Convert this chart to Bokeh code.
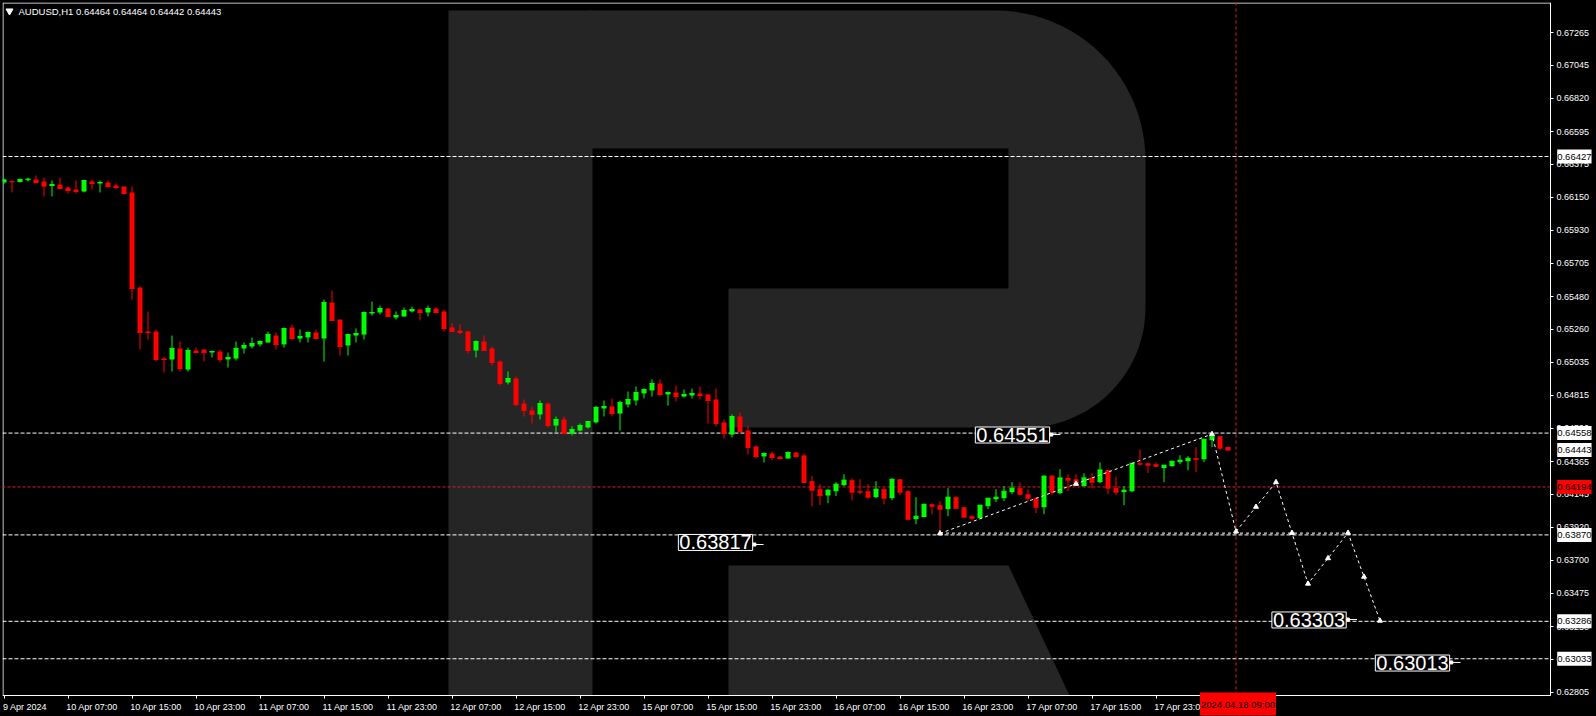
import math
from bokeh.plotting import figure
from bokeh.models import (Range1d, FixedTicker, PrintfTickFormatter, Label,
                          ColumnDataSource, GlobalInlineStyleSheet)
from bokeh.embed import file_html
from bokeh.resources import INLINE

# ---------------- data (AUDUSD H1) ----------------
open_ = [0.66251, 0.66260, 0.66254, 0.66267, 0.66272, 0.66258, 0.66227, 0.66238, 0.66218, 0.66204,
         0.66191, 0.66258, 0.66245, 0.66251, 0.66231, 0.66224, 0.66184, 0.65542, 0.65244, 0.65244,
         0.65062, 0.65055, 0.65130, 0.64988, 0.65116, 0.65123, 0.65102, 0.65109, 0.65055, 0.65062,
         0.65130, 0.65143, 0.65157, 0.65170, 0.65217, 0.65157, 0.65271, 0.65197, 0.65204, 0.65238,
         0.65197, 0.65440, 0.65325, 0.65150, 0.65217, 0.65224, 0.65366, 0.65373, 0.65400, 0.65339,
         0.65346, 0.65380, 0.65393, 0.65373, 0.65400, 0.65380, 0.65272, 0.65251, 0.65245, 0.65116,
         0.65177, 0.65130, 0.65042, 0.64900, 0.64927, 0.64758, 0.64711, 0.64684, 0.64758, 0.64609,
         0.64650, 0.64555, 0.64575, 0.64596, 0.64630, 0.64724, 0.64738, 0.64690, 0.64751, 0.64778,
         0.64826, 0.64846, 0.64893, 0.64819, 0.64832, 0.64805, 0.64812, 0.64826, 0.64819, 0.64785,
         0.64630, 0.64548, 0.64670, 0.64575, 0.64467, 0.64400, 0.64420, 0.64400, 0.64386, 0.64427,
         0.64407, 0.64233, 0.64179, 0.64136, 0.64165, 0.64206, 0.64240, 0.64165, 0.64165, 0.64125,
         0.64179, 0.64118, 0.64246, 0.64165, 0.63976, 0.63990, 0.64077, 0.64071, 0.64044, 0.64125,
         0.64057, 0.63996, 0.63983, 0.64064, 0.64111, 0.64118, 0.64159, 0.64186, 0.64145, 0.64118,
         0.64057, 0.64271, 0.64152, 0.64255, 0.64246, 0.64199, 0.64255, 0.64226, 0.64309, 0.64186,
         0.64159, 0.64165, 0.64354, 0.64354, 0.64348, 0.64321, 0.64334, 0.64361, 0.64368, 0.64388,
         0.64381, 0.64510, 0.64537, 0.64464]
high = [0.66278, 0.66265, 0.66278, 0.66285, 0.66299, 0.66285, 0.66265, 0.66285, 0.66224, 0.66265,
        0.66265, 0.66272, 0.66265, 0.66265, 0.66245, 0.66224, 0.66224, 0.65549, 0.65380, 0.65258,
        0.65075, 0.65217, 0.65177, 0.65136, 0.65136, 0.65123, 0.65116, 0.65123, 0.65102, 0.65177,
        0.65170, 0.65204, 0.65184, 0.65244, 0.65238, 0.65271, 0.65292, 0.65258, 0.65244, 0.65258,
        0.65461, 0.65521, 0.65325, 0.65224, 0.65265, 0.65380, 0.65447, 0.65420, 0.65400, 0.65380,
        0.65407, 0.65413, 0.65393, 0.65420, 0.65407, 0.65393, 0.65299, 0.65292, 0.65251, 0.65184,
        0.65218, 0.65143, 0.65049, 0.64974, 0.64940, 0.64785, 0.64738, 0.64778, 0.64765, 0.64670,
        0.64670, 0.64603, 0.64623, 0.64636, 0.64744, 0.64778, 0.64792, 0.64778, 0.64839, 0.64873,
        0.64859, 0.64920, 0.64920, 0.64839, 0.64880, 0.64853, 0.64859, 0.64873, 0.64819, 0.64859,
        0.64650, 0.64684, 0.64697, 0.64603, 0.64474, 0.64427, 0.64434, 0.64400, 0.64434, 0.64427,
        0.64420, 0.64267, 0.64213, 0.64179, 0.64226, 0.64280, 0.64253, 0.64246, 0.64213, 0.64233,
        0.64186, 0.64253, 0.64246, 0.64172, 0.64125, 0.64077, 0.64084, 0.64098, 0.64186, 0.64132,
        0.64057, 0.64003, 0.64071, 0.64118, 0.64179, 0.64199, 0.64226, 0.64226, 0.64179, 0.64125,
        0.64273, 0.64271, 0.64314, 0.64280, 0.64280, 0.64287, 0.64287, 0.64359, 0.64309, 0.64264,
        0.64199, 0.64354, 0.64447, 0.64354, 0.64361, 0.64341, 0.64368, 0.64408, 0.64402, 0.64463,
        0.64517, 0.64564, 0.64537, 0.64464]
low = [0.66242, 0.66184, 0.66251, 0.66258, 0.66245, 0.66157, 0.66157, 0.66211, 0.66177, 0.66177,
       0.66184, 0.66204, 0.66184, 0.66218, 0.66204, 0.66170, 0.65461, 0.65123, 0.65190, 0.65042,
       0.64967, 0.64974, 0.64974, 0.64974, 0.65096, 0.65042, 0.65069, 0.65035, 0.65001, 0.65048,
       0.65096, 0.65130, 0.65143, 0.65170, 0.65123, 0.65136, 0.65184, 0.65170, 0.65170, 0.65190,
       0.65042, 0.65319, 0.65082, 0.65082, 0.65170, 0.65190, 0.65352, 0.65359, 0.65346, 0.65325,
       0.65346, 0.65373, 0.65319, 0.65346, 0.65366, 0.65244, 0.65245, 0.65224, 0.65096, 0.65069,
       0.65116, 0.65015, 0.64880, 0.64886, 0.64738, 0.64670, 0.64623, 0.64650, 0.64596, 0.64562,
       0.64555, 0.64542, 0.64569, 0.64589, 0.64623, 0.64670, 0.64670, 0.64575, 0.64731, 0.64744,
       0.64792, 0.64805, 0.64805, 0.64744, 0.64771, 0.64798, 0.64792, 0.64785, 0.64623, 0.64603,
       0.64521, 0.64528, 0.64555, 0.64413, 0.64386, 0.64359, 0.64373, 0.64380, 0.64386, 0.64393,
       0.64224, 0.64064, 0.64071, 0.64084, 0.64132, 0.64199, 0.64104, 0.64145, 0.64111, 0.64118,
       0.64077, 0.64104, 0.64138, 0.63969, 0.63942, 0.63990, 0.64010, 0.63888, 0.63996, 0.64050,
       0.63990, 0.63969, 0.63976, 0.64044, 0.64091, 0.64098, 0.64145, 0.64138, 0.64098, 0.64017,
       0.64010, 0.64138, 0.64145, 0.64165, 0.64199, 0.64199, 0.64186, 0.64219, 0.64145, 0.64138,
       0.64071, 0.64159, 0.64341, 0.64287, 0.64327, 0.64226, 0.64334, 0.64348, 0.64307, 0.64294,
       0.64361, 0.64463, 0.64449, 0.64442]
close = [0.66269, 0.66256, 0.66272, 0.66274, 0.66251, 0.66227, 0.66238, 0.66211, 0.66197, 0.66191,
         0.66265, 0.66245, 0.66251, 0.66224, 0.66218, 0.66177, 0.65535, 0.65238, 0.65238, 0.65055,
         0.65055, 0.65130, 0.64994, 0.65116, 0.65102, 0.65102, 0.65109, 0.65055, 0.65069, 0.65130,
         0.65150, 0.65163, 0.65177, 0.65224, 0.65157, 0.65265, 0.65197, 0.65211, 0.65238, 0.65197,
         0.65440, 0.65319, 0.65143, 0.65224, 0.65231, 0.65373, 0.65373, 0.65400, 0.65346, 0.65352,
         0.65386, 0.65393, 0.65373, 0.65400, 0.65373, 0.65265, 0.65245, 0.65238, 0.65116, 0.65177,
         0.65116, 0.65035, 0.64893, 0.64927, 0.64751, 0.64711, 0.64684, 0.64758, 0.64609, 0.64650,
         0.64555, 0.64582, 0.64609, 0.64636, 0.64731, 0.64738, 0.64690, 0.64765, 0.64785, 0.64832,
         0.64853, 0.64893, 0.64819, 0.64832, 0.64805, 0.64819, 0.64826, 0.64812, 0.64778, 0.64623,
         0.64555, 0.64670, 0.64569, 0.64461, 0.64400, 0.64420, 0.64393, 0.64386, 0.64427, 0.64400,
         0.64224, 0.64172, 0.64136, 0.64172, 0.64213, 0.64240, 0.64159, 0.64159, 0.64125, 0.64179,
         0.64118, 0.64246, 0.64159, 0.63976, 0.63996, 0.64077, 0.64064, 0.64044, 0.64125, 0.64050,
         0.63990, 0.63983, 0.64071, 0.64118, 0.64125, 0.64165, 0.64186, 0.64145, 0.64118, 0.64057,
         0.64267, 0.64159, 0.64255, 0.64240, 0.64206, 0.64255, 0.64226, 0.64309, 0.64186, 0.64159,
         0.64172, 0.64354, 0.64348, 0.64341, 0.64334, 0.64341, 0.64368, 0.64375, 0.64388, 0.64381,
         0.64517, 0.64537, 0.64456, 0.64443]

tick_bars = [0, 8, 16, 24, 32, 40, 48, 56, 64, 72, 80, 88, 96, 104, 112, 120, 128, 136, 144]
tick_labels = ["9 Apr 2024", "10 Apr 07:00", "10 Apr 15:00", "10 Apr 23:00", "11 Apr 07:00",
               "11 Apr 15:00", "11 Apr 23:00", "12 Apr 07:00", "12 Apr 15:00", "12 Apr 23:00",
               "15 Apr 07:00", "15 Apr 15:00", "15 Apr 23:00", "16 Apr 07:00", "16 Apr 15:00",
               "16 Apr 23:00", "17 Apr 07:00", "17 Apr 15:00", "17 Apr 23:00"]
price_ticks = [0.67265, 0.67045, 0.66820, 0.66595, 0.66375, 0.66150, 0.65930, 0.65705, 0.65480,
               0.65260, 0.65035, 0.64815, 0.64590, 0.64365, 0.64145, 0.63920, 0.63700, 0.63475,
               0.63250, 0.63030, 0.62805]

white_levels = [0.66427, 0.64558, 0.63870, 0.63286, 0.63033]
red_level = 0.64194
current_price = 0.64443
time_line_bar = 154
time_line_text = "2024.04.18 09:00"
title_text = "AUDUSD,H1  0.64464 0.64464 0.64442 0.64443"

fc_bar = [117, 151, 154, 159, 163, 168, 172]
fc_price = [0.63880, 0.64551, 0.63893, 0.64226, 0.63540, 0.63884, 0.63290]
fc_mid_segments = [0, 2, 3, 4, 5]
base_bar = [117, 168]
base_price = 0.63882

box_text = ["0.64551", "0.63817", "0.63303", "0.63013"]
box_bar = [126.06, 88.94, 163.13, 176.06]
box_price = [0.64545, 0.63819, 0.63295, 0.63004]
box_arrow_price = [0.64548, 0.63805, 0.63298, 0.63008]

# ---------------- geometry helpers (reference pixel -> data) ----------------
W, H = 1596, 716
def bx(px):
    return (px - 3.5) / 8.0
def py(y):
    return 0.67265 - (y - 32) / 14798.0

# chart area (inside the scales) in data units
X_L, X_R = bx(2), bx(1550)
Y_T, Y_B = py(2), py(695)

FONT = "Liberation Sans"
BULL, BEAR = "#00ff00", "#ff0000"
RED_LINE = "#e01e1e"
WM = "#252525"

n = len(open_)
bars = list(range(n))
colors = [BULL if c > o else BEAR for o, c in zip(open_, close)]
src = ColumnDataSource(dict(
    x=bars, h=high, l=low, c=close,
    top=[max(o, c) for o, c in zip(open_, close)],
    bottom=[min(o, c) for o, c in zip(open_, close)],
    x0=[b - 0.3125 for b in bars], x1=[b + 0.3125 for b in bars],
    color=colors))

# The frame spans the whole canvas; the two scales are drawn at fixed locations so that
# the price/time boxes that sit over the scales are not clipped.
p = figure(width=W, height=H,
           x_range=Range1d(bx(2), bx(W)), y_range=Range1d(py(H), py(2)),
           output_backend="svg", toolbar_location=None, y_axis_location="right",
           min_border_left=2, min_border_top=2, min_border_right=0, min_border_bottom=0,
           background_fill_color="black", border_fill_color="black",
           outline_line_color=None)
p.grid.visible = False
p.stylesheets = [GlobalInlineStyleSheet(
    css="html,body{margin:0;padding:0;background:#000;overflow:hidden;}")]

# ---------------- watermark "R" ----------------
def arc(cx, cy, r, a0, a1, steps=24):
    pts = []
    for i in range(steps + 1):
        a = math.radians(a0 + (a1 - a0) * i / steps)
        pts.append((cx + r * math.cos(a), cy + r * math.sin(a)))
    return pts

stem = [(448, 10), (592, 10), (592, 695), (448, 695)]
bowl = ([(588, 10), (995, 10)] + arc(995, 160, 150, -90, 0) + arc(1025, 307, 120, 0, 90)
        + [(728, 427), (728, 288), (1008, 288), (1008, 148), (588, 148)])
leg = [(728, 565), (1008, 565), (1069, 695), (728, 695)]
for shape in (stem, bowl, leg):
    p.patch([bx(x) for x, y in shape], [py(y) for x, y in shape],
            fill_color=WM, line_color=None)

# ---------------- chart border (left / top) ----------------
p.segment(x0=[bx(2.5), bx(2.5)], y0=[py(2.5), py(2.5)], x1=[bx(2.5), X_R], y1=[Y_B, py(2.5)],
          line_color="white", line_width=1)

# ---------------- level lines ----------------
nl = len(white_levels)
p.segment(x0=[X_L] * nl, x1=[X_R] * nl, y0=white_levels, y1=white_levels,
          line_color="white", line_dash="4 2", line_width=1)
p.segment(x0=[X_L], x1=[X_R], y0=[red_level], y1=[red_level],
          line_color=RED_LINE, line_dash="3 2", line_width=1)
p.segment(x0=[time_line_bar], x1=[time_line_bar], y0=[Y_T], y1=[Y_B],
          line_color=RED_LINE, line_dash="3 3", line_width=1)

# ---------------- candles ----------------
p.segment(x0="x", y0="h", x1="x", y1="l", line_color="color", line_width=1, source=src)
p.vbar(x="x", width=0.625, top="top", bottom="bottom", fill_color="color",
       line_color=None, source=src)
p.segment(x0="x0", y0="c", x1="x1", y1="c", line_color="color", line_width=1, source=src)

# ---------------- forecast path ----------------
p.line(fc_bar, fc_price, line_color="white", line_dash="3 3", line_width=1)
p.line(base_bar, [base_price, base_price], line_color="white", line_dash="3 3", line_width=1)
mx = list(fc_bar) + [(fc_bar[i] + fc_bar[i + 1]) / 2 for i in fc_mid_segments]
my = list(fc_price) + [(fc_price[i] + fc_price[i + 1]) / 2 for i in fc_mid_segments]
p.scatter(mx, my, marker="triangle", size=5, fill_color="white", line_color="white")

# ---------------- boxed price labels on chart ----------------
for t, xb, yp, ya in zip(box_text, box_bar, box_price, box_arrow_price):
    p.add_layout(Label(x=xb, y=yp, text=t, text_align="center", text_baseline="middle",
                       text_font=FONT, text_font_size="20px", text_color="white",
                       background_fill_color="black", border_line_color="white",
                       border_line_width=1, padding=1))
    p.segment(x0=[xb + 4.6], y0=[ya], x1=[xb + 6.0], y1=[ya], line_color="white", line_width=1)
    p.scatter([xb + 4.85], [ya], marker="square", size=3, fill_color="white", line_color="white")

# ---------------- title ----------------
p.scatter([bx(9)], [py(10.5)], marker="inverted_triangle", size=7,
          fill_color="white", line_color="white")
p.add_layout(Label(x=bx(18), y=py(10.7), text=title_text, text_align="left",
                   text_baseline="middle", text_font=FONT, text_font_size="9.5px",
                   text_color="white"))

# ---------------- axes (time scale below, price scale right) ----------------
label_pos = [tick_bars[0] + 2.625] + [b + 3 for b in tick_bars[1:]]
xa = p.xaxis[0]
xa.fixed_location = Y_B
xa.bounds = (X_L, X_R)
xa.ticker = FixedTicker(ticks=label_pos, minor_ticks=tick_bars)
xa.major_label_overrides = {lp: lb for lp, lb in zip(label_pos, tick_labels)}
xa.major_tick_line_color = None
xa.major_tick_out = 0
xa.major_tick_in = 0
xa.minor_tick_line_color = "white"
xa.minor_tick_out = 3
xa.minor_tick_in = 0
xa.major_label_standoff = 3
xa.axis_line_color = "white"
xa.major_label_text_color = "white"
xa.major_label_text_font = FONT
xa.major_label_text_font_size = "9px"

ya_ = p.yaxis[0]
ya_.fixed_location = X_R
ya_.bounds = (Y_B, Y_T)
ya_.ticker = FixedTicker(ticks=price_ticks)
ya_.formatter = PrintfTickFormatter(format="%.5f")
ya_.major_tick_line_color = "white"
ya_.major_tick_out = 3
ya_.major_tick_in = 0
ya_.minor_tick_line_color = None
ya_.major_label_standoff = 3
ya_.axis_line_color = "white"
ya_.major_label_text_color = "white"
ya_.major_label_text_font = FONT
ya_.major_label_text_font_size = "9px"

# ---------------- price-scale / time-scale boxes ----------------
for lvl in white_levels + [current_price]:
    p.add_layout(Label(x=194.15, y=lvl, text=f"{lvl:.5f}", text_align="left",
                       text_baseline="middle", text_font=FONT, text_font_size="9.5px",
                       text_color="black", background_fill_color="white", padding=(0, 4)))
p.add_layout(Label(x=194.15, y=red_level, text=f"{red_level:.5f}", text_align="left",
                   text_baseline="middle", text_font=FONT, text_font_size="9.5px",
                   text_color="black", background_fill_color="#ff0000", padding=(0, 4)))
p.add_layout(Label(x=time_line_bar + 0.25, y=py(703.5), text=time_line_text,
                   text_align="center", text_baseline="middle", text_font=FONT,
                   text_font_size="9.5px", text_color="black",
                   background_fill_color="#ff0000", padding=(1, 6)))

open("out.html", "w").write(file_html(p, INLINE))
